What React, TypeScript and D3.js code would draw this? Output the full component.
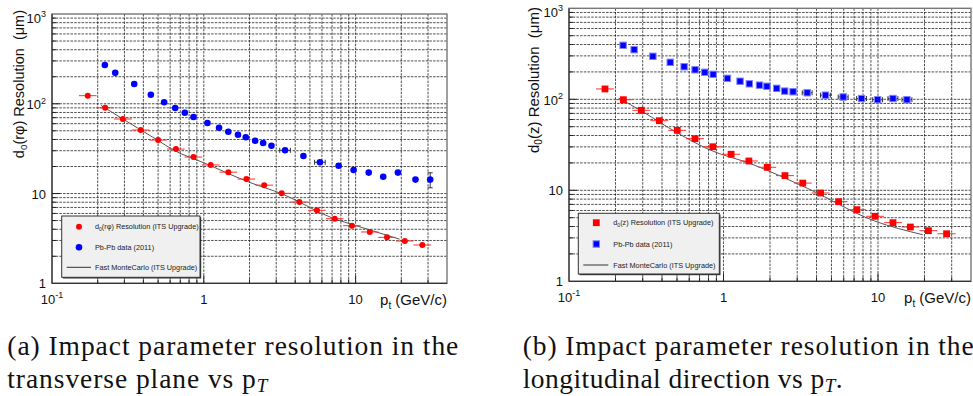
import * as d3 from "d3";

// ---- (a) transverse plane, d0(r phi)
const ptRedRphi = [0.172, 0.224, 0.293, 0.384, 0.5, 0.655, 0.855, 1.11, 1.45, 1.91, 2.5, 3.26, 4.26, 5.56, 7.28, 9.46, 12.4, 16.1, 21.1, 27.5];
const resRedRphi = [123, 90.3, 67.6, 51, 39.4, 31.3, 25.5, 20.8, 17.3, 14.5, 12.4, 10.05, 8.04, 6.5, 5.24, 4.38, 3.73, 3.25, 2.96, 2.67];
const ptBlueRphi = [0.223, 0.261, 0.348, 0.448, 0.548, 0.648, 0.75, 0.855, 1.057, 1.26, 1.45, 1.68, 1.89, 2.18, 2.46, 2.79, 3.43, 4.53, 5.82, 7.73, 9.7, 12.2, 15.2, 19.0, 24.8, 31.0];
const resBlueRphi = [270, 221, 166, 126, 104, 89.6, 79.4, 71.2, 61, 54.1, 48.8, 45.2, 42.3, 38.7, 36.5, 34.0, 30.3, 26.2, 22.3, 20.4, 18.3, 17.1, 15.4, 17.1, 14.3, 14.3];
// horizontal error (log10 half width) and vertical error (relative) of the Pb-Pb points
const xErrBlueRphi = [0, 0, 0, 0, 0, 0, 0, 0, 0, 0, 0, 0, 0, 0, 0, 0, 0.035, 0, 0.035, 0, 0, 0, 0, 0, 0, 0];
const yErrBlueRphi = [0, 0, 0, 0, 0, 0, 0, 0, 0, 0, 0, 0, 0, 0, 0, 0, 0, 0, 0, 0, 0, 0, 0, 0, 0, 0.19];
const ptMcRphi = [0.21, 0.3, 0.5, 0.63, 1, 1.96, 3.33, 7.1, 10, 19.5];
const resMcRphi = [96, 66, 39, 30.6, 22, 13.5, 9.8, 5.3, 4.4, 3.1];

// ---- (b) longitudinal direction, d0(z)
const ptRedZ = [0.171, 0.225, 0.294, 0.384, 0.502, 0.654, 0.853, 1.12, 1.46, 1.92, 2.5, 3.26, 4.25, 5.56, 7.3, 9.57, 12.5, 16.2, 21.2, 27.8];
const resRedZ = [130, 99, 75.7, 58.2, 45.6, 36.9, 30.1, 24.9, 21.0, 17.9, 14.5, 12.0, 9.34, 7.5, 6.12, 5.18, 4.41, 3.95, 3.6, 3.33];
const ptBlueZ = [0.224, 0.264, 0.349, 0.452, 0.556, 0.655, 0.757, 0.857, 1.06, 1.28, 1.47, 1.71, 1.91, 2.21, 2.49, 2.82, 3.48, 4.57, 5.95, 7.83, 9.95, 12.5, 15.4];
const resBlueZ = [392, 351, 297, 255, 228, 211, 198, 188, 170, 158, 148, 143, 139, 132, 123, 121, 118, 111, 106, 102, 99, 102, 99];
const xErrBlueZ = [0, 0, 0, 0, 0, 0, 0, 0, 0, 0, 0, 0, 0, 0, 0, 0, 0.032, 0.032, 0.032, 0.032, 0.032, 0.032, 0.032];
const yErrBlueZ = ptBlueZ.map(() => 0);
const ptMcZ = [0.21, 0.3, 0.5, 0.82, 1.5, 3.5, 9.5, 19.5];
const resMcZ = [103, 73, 43, 27.7, 19.6, 10.5, 4.6, 3.25];

const redBinHalfLog = 0.058; // pt bin half width, log10 units

const xDomain: [number, number] = [0.1, 40];
const yDomain: [number, number] = [1, 1000];
const yMajor = [1, 10, 100, 1000];
const yMajorBase = ["1", "10", "10", "10"];
const yMajorExp = ["", "", "2", "3"];
const xMajor = [0.1, 1, 10];
const xMajorBase = ["10", "1", "10"];
const xMajorExp = ["-1", "", ""];

const legendRest = ["Resolution  (ITS Upgrade)", "Pb-Pb data  (2011)", "Fast MonteCarlo (ITS Upgrade)"];

const SANS = "'Liberation Sans', Arial, sans-serif";
const SERIF = "'Liberation Serif', 'Times New Roman', serif";
const RED = "#ff0000";
const BLUE = "#0000ff";

interface Legend {
  x: number; y: number; w: number; h: number;
  rows: number[]; mx: number; tx: number; lx0: number; lx1: number;
}

interface PanelProps {
  x0: number; x1: number; y0: number; y1: number;
  square: boolean;
  varName: string;
  ptRed: number[]; resRed: number[];
  ptBlue: number[]; resBlue: number[]; xErrBlue: number[]; yErrBlue: number[];
  ptMc: number[]; resMc: number[];
  titleX: number; titleTop: number; titleSize: number;
  leg: Legend;
}

function Marker({ cx, cy, square, color, size }: { cx: number; cy: number; square: boolean; color: string; size: number }) {
  if (square)
    return (
      <rect x={cx - size / 2} y={cy - size / 2} width={size} height={size} fill={color}
        stroke={color === BLUE ? "#8080ff" : "none"} strokeWidth={1} />
    );
  return <circle cx={cx} cy={cy} r={size / 2} fill={color} />;
}

function Panel(p: PanelProps) {
  const { x0, x1, y0, y1, leg } = p;
  const x = d3.scaleLog().domain(xDomain).range([x0, x1]);
  const y = d3.scaleLog().domain(yDomain).range([y1, y0]);
  const xt = x.ticks().filter((t) => t > xDomain[0] && t < xDomain[1]);
  const yt = y.ticks().filter((t) => t > yDomain[0] && t < yDomain[1]);
  const isMajor = (t: number) => Math.abs(Math.log10(t) - Math.round(Math.log10(t))) < 1e-6;

  const mc = d3
    .line<number>()
    .x((d, i) => x(p.ptMc[i]))
    .y((d) => y(d))
    .curve(d3.curveMonotoneX)(p.resMc);

  const f = Math.pow(10, redBinHalfLog);
  const redSize = p.square ? 6.8 : 6;
  const blueSize = p.square ? 6.4 : 6.6;

  return (
    <g fontFamily={SANS}>
      {/* grid */}
      <g stroke="#222" strokeWidth={0.8} strokeDasharray="2.5,1.2">
        {xt.map((t, i) => (
          <line key={"gx" + i} x1={x(t)} x2={x(t)} y1={y0} y2={y1} />
        ))}
        {yt.map((t, i) => (
          <line key={"gy" + i} x1={x0} x2={x1} y1={y(t)} y2={y(t)} />
        ))}
      </g>
      {/* frame */}
      <rect x={x0} y={y0} width={x1 - x0} height={y1 - y0} fill="none" stroke="#777" strokeWidth={1.4} />
      <line x1={x0} x2={x0} y1={y0} y2={y1} stroke="#222" />
      <line x1={x0} x2={x1} y1={y1} y2={y1} stroke="#222" />
      {/* ticks */}
      <g stroke="#222">
        {yt.map((t, i) => (
          <line key={"ty" + i} x1={x0} x2={x0 + (isMajor(t) ? 8 : 4)} y1={y(t)} y2={y(t)} />
        ))}
        {xt.map((t, i) => (
          <line key={"tx" + i} x1={x(t)} x2={x(t)} y1={y1} y2={y1 - (isMajor(t) ? 8 : 4)} />
        ))}
      </g>
      {/* tick labels */}
      <g fontSize={13} fill="#111">
        {yMajor.map((t, i) => {
          const base = yMajorExp[i] ? Math.max(y(t) + 5.5, y0 + 8.5) : y(t) + 5;
          return (
            <text key={"ly" + i} x={x0 - 6} y={base} textAnchor="end">
              {yMajorBase[i]}
              {yMajorExp[i] && (
                <tspan dy={-5.5} fontSize={9}>
                  {yMajorExp[i]}
                </tspan>
              )}
            </text>
          );
        })}
        {xMajor.map((t, i) => (
          <text key={"lx" + i} x={x(t)} y={y1 + 20.5} textAnchor="middle">
            {xMajorBase[i]}
            {xMajorExp[i] && (
              <tspan dy={-5.5} fontSize={9}>
                {xMajorExp[i]}
              </tspan>
            )}
          </text>
        ))}
      </g>
      {/* axis titles */}
      <text x={x1} y={y1 + 22} textAnchor="end" fontSize={15} fill="#111">
        p<tspan dy={3.5} fontSize={10}>t</tspan>
        <tspan dy={-3.5}> (GeV/c)</tspan>
      </text>
      <text transform={`translate(${p.titleX},${p.titleTop}) rotate(-90)`} textAnchor="end"
        fontSize={p.titleSize} fill="#111" style={{ whiteSpace: "pre" }}>
        d<tspan dy={3.5} fontSize={p.titleSize * 0.68}>0</tspan>
        <tspan dy={-3.5}>{`(${p.varName}) Resolution  (\u03bcm)`}</tspan>
      </text>

      {/* Monte Carlo curve */}
      <path d={mc ?? ""} fill="none" stroke="#555" strokeWidth={1} />

      {/* ITS upgrade points */}
      <g>
        {p.ptRed.map((pt, i) => (
          <g key={"r" + i}>
            <line x1={x(pt / f)} x2={x(pt * f)} y1={y(p.resRed[i])} y2={y(p.resRed[i])} stroke="#ff3030" strokeWidth={1} />
            <Marker cx={x(pt)} cy={y(p.resRed[i])} square={p.square} color={RED} size={redSize} />
          </g>
        ))}
      </g>
      {/* Pb-Pb points */}
      <g>
        {p.ptBlue.map((pt, i) => {
          const cx = x(pt);
          const cy = y(p.resBlue[i]);
          const dx = p.xErrBlue[i];
          const dy = p.yErrBlue[i];
          return (
            <g key={"b" + i}>
              {dx > 0 && (
                <g stroke="#333" strokeWidth={1}>
                  <line x1={x(pt / Math.pow(10, dx))} x2={x(pt * Math.pow(10, dx))} y1={cy} y2={cy} />
                  <line x1={x(pt / Math.pow(10, dx))} x2={x(pt / Math.pow(10, dx))} y1={cy - 2.5} y2={cy + 2.5} />
                  <line x1={x(pt * Math.pow(10, dx))} x2={x(pt * Math.pow(10, dx))} y1={cy - 2.5} y2={cy + 2.5} />
                </g>
              )}
              {dy > 0 && (
                <g stroke="#333" strokeWidth={1}>
                  <line x1={cx} x2={cx} y1={y(p.resBlue[i] * (1 + dy))} y2={y(p.resBlue[i] * (1 - dy))} />
                  <line x1={cx - 2.5} x2={cx + 2.5} y1={y(p.resBlue[i] * (1 + dy))} y2={y(p.resBlue[i] * (1 + dy))} />
                  <line x1={cx - 2.5} x2={cx + 2.5} y1={y(p.resBlue[i] * (1 - dy))} y2={y(p.resBlue[i] * (1 - dy))} />
                </g>
              )}
              <Marker cx={cx} cy={cy} square={p.square} color={BLUE} size={blueSize} />
            </g>
          );
        })}
      </g>

      {/* legend */}
      <g>
        <rect x={leg.x + 1.2} y={leg.y + 1.2} width={leg.w} height={leg.h} fill="#333" />
        <rect x={leg.x} y={leg.y} width={leg.w} height={leg.h} fill="#f0f0f0" stroke="#333" strokeWidth={1} />
        <Marker cx={leg.mx} cy={leg.rows[0]} square={p.square} color={RED} size={redSize} />
        <Marker cx={leg.mx} cy={leg.rows[1]} square={p.square} color={BLUE} size={blueSize} />
        <line x1={leg.lx0} x2={leg.lx1} y1={leg.rows[2]} y2={leg.rows[2]} stroke="#333" strokeWidth={1} />
        <g fontSize={7.3} fill="#222" style={{ whiteSpace: "pre" }}>
          <text x={leg.tx} y={leg.rows[0] + 2.5}>
            d<tspan dy={1.5} fontSize={5}>0</tspan>
            <tspan dy={-1.5}>{`(${p.varName}) ${legendRest[0]}`}</tspan>
          </text>
          <text x={leg.tx} y={leg.rows[1] + 2.5}>{legendRest[1]}</text>
          <text x={leg.tx} y={leg.rows[2] + 2.5}>{legendRest[2]}</text>
        </g>
      </g>
    </g>
  );
}

export default function App() {
  return (
    <div style={{ position: "absolute", left: 0, top: 0 }}>
      <svg width={973} height={396} viewBox="0 0 973 396" style={{ display: "block", background: "#fff" }}>
        <Panel
          x0={52} x1={447} y0={14} y1={283.3} square={false} varName={"r\u03c6"}
          ptRed={ptRedRphi} resRed={resRedRphi}
          ptBlue={ptBlueRphi} resBlue={resBlueRphi} xErrBlue={xErrBlueRphi} yErrBlue={yErrBlueRphi}
          ptMc={ptMcRphi} resMc={resMcRphi}
          titleX={23.5} titleTop={10} titleSize={14.5}
          leg={{ x: 61.7, y: 216, w: 138.3, h: 61.3, rows: [226.7, 247.3, 267.3], mx: 79, tx: 95, lx0: 66.7, lx1: 91 }}
        />
        <Panel
          x0={569} x1={971} y0={8.3} y1={281.3} square={true} varName="z"
          ptRed={ptRedZ} resRed={resRedZ}
          ptBlue={ptBlueZ} resBlue={resBlueZ} xErrBlue={xErrBlueZ} yErrBlue={yErrBlueZ}
          ptMc={ptMcZ} resMc={resMcZ}
          titleX={538.5} titleTop={7} titleSize={15}
          leg={{ x: 578.3, y: 213.3, w: 141, h: 60.7, rows: [222.7, 244, 265], mx: 596.3, tx: 613.3, lx0: 583.3, lx1: 608.3 }}
        />
        <g fontFamily={SERIF} fontSize={27.5} fill="#111">
          <text x={7.3} y={355} textLength={451}>(a) Impact parameter resolution in the</text>
          <text x={7.3} y={388} textLength={260}>
            transverse plane vs p<tspan dy={4} fontSize={19} fontStyle="italic">T</tspan>
          </text>
          <text x={522.7} y={355} textLength={451}>(b) Impact parameter resolution in the</text>
          <text x={522.7} y={388} textLength={320}>
            longitudinal direction vs p<tspan dy={4} fontSize={19} fontStyle="italic">T</tspan>
            <tspan dy={-4}>.</tspan>
          </text>
        </g>
      </svg>
    </div>
  );
}
